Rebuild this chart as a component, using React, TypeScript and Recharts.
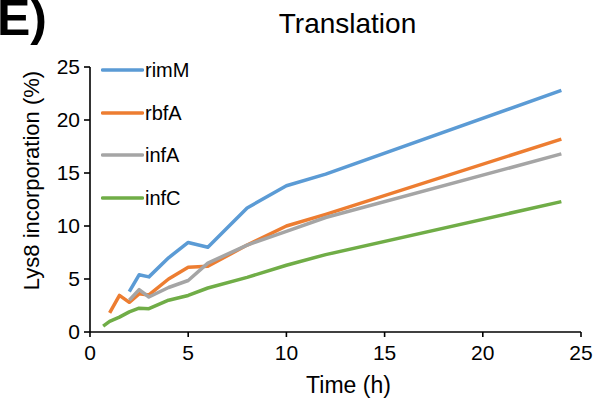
import React from "react";
import { LineChart, Line, XAxis, YAxis } from "recharts";

const timeH = [0.67, 1, 1.5, 2, 2.5, 3, 4, 5, 6, 8, 10, 12, 24];
const rimM = [null, null, null, 3.8, 5.4, 5.2, 7.0, 8.45, 8.0, 11.7, 13.8, 14.9, 22.8];
const rbfA = [null, 1.8, 3.45, 2.8, 3.6, 3.5, 5.0, 6.1, 6.2, 8.2, 10.0, 11.1, 18.2];
const infA = [null, null, null, 3.0, 4.0, 3.3, 4.2, 4.86, 6.5, 8.2, 9.5, 10.8, 16.8];
const infC = [0.55, 1.0, 1.4, 1.9, 2.25, 2.2, 3.0, 3.45, 4.15, 5.15, 6.3, 7.3, 12.3];

const xTicks = [0, 5, 10, 15, 20, 25];
const yTicks = [0, 5, 10, 15, 20, 25];

const seriesNames = ["rimM", "rbfA", "infA", "infC"];
const seriesColors = ["#5B9BD5", "#ED7D31", "#A5A5A5", "#70AD47"];

const data = timeH.map((t, i) => ({
  time: t,
  rimM: rimM[i],
  rbfA: rbfA[i],
  infA: infA[i],
  infC: infC[i],
}));

const FONT = "'Liberation Sans', Arial, Helvetica, sans-serif";

const YLabel = (props: any) => {
  const vb = props.viewBox || { x: 0, y: 0, width: 0, height: 0 };
  const cx = vb.x + 31;
  const cy = vb.y + vb.height / 2 - 19;
  return (
    <text
      x={cx}
      y={cy}
      transform={`rotate(-90, ${cx}, ${cy})`}
      textAnchor="middle"
      dominantBaseline="central"
      fontSize={22}
      fontFamily={FONT}
      fill="#000"
    >
      Lys8 incorporation (%)
    </text>
  );
};

const XLabel = (props: any) => {
  const vb = props.viewBox || { x: 0, y: 0, width: 0, height: 0 };
  const cx = vb.x + vb.width / 2 + 13;
  return (
    <text x={cx} y={393} textAnchor="middle" fontSize={23} fontFamily={FONT} fill="#000">
      Time (h)
    </text>
  );
};

export default function App() {
  return (
    <div style={{ position: "absolute", left: 0, top: 0, width: 601, height: 398, background: "#fff", overflow: "hidden" }}>
      <LineChart width={601} height={398} data={data} margin={{ top: 67, right: 20, bottom: 6, left: 0 }}>
        <XAxis
          dataKey="time"
          type="number"
          domain={[0, 25]}
          ticks={xTicks}
          height={60}
          axisLine={{ stroke: "#000", strokeWidth: 1.6 }}
          tickLine={{ stroke: "#000", strokeWidth: 1.6 }}
          tickSize={5}
          tickMargin={8}
          tick={{ fill: "#000", fontSize: 21, fontFamily: FONT }}
          label={<XLabel />}
        />
        <YAxis
          type="number"
          domain={[0, 25]}
          ticks={yTicks}
          width={90}
          axisLine={{ stroke: "#000", strokeWidth: 1.6 }}
          tickLine={{ stroke: "#000", strokeWidth: 1.6 }}
          tickSize={6}
          tickMargin={4}
          tick={{ fill: "#000", fontSize: 21, fontFamily: FONT }}
          label={<YLabel />}
        />
        {seriesNames.map((name, i) => (
          <Line
            key={name}
            type="linear"
            dataKey={name}
            name={name}
            stroke={seriesColors[i]}
            strokeWidth={3.5}
            dot={false}
            activeDot={false}
            isAnimationActive={false}
            strokeLinejoin="round"
          />
        ))}
      </LineChart>
      <div style={{ position: "absolute", left: 101, top: 49, fontFamily: FONT }}>
        {seriesNames.map((name, i) => (
          <div key={name} style={{ display: "flex", alignItems: "center", height: 42.5 }}>
            <svg width={43} height={6} style={{ display: "block" }}>
              <line x1={1.5} y1={3} x2={41.5} y2={3} stroke={seriesColors[i]} strokeWidth={3.5} strokeLinecap="round" />
            </svg>
            <span style={{ fontSize: 20, color: "#000", marginLeft: 1, lineHeight: "20px" }}>{name}</span>
          </div>
        ))}
      </div>
      <div
        style={{
          position: "absolute",
          left: 0,
          width: 695,
          top: 35 - 28 * 0.905,
          textAlign: "center",
          fontFamily: FONT,
          fontSize: 28,
          lineHeight: "28px",
          color: "#000",
          whiteSpace: "nowrap",
        }}
      >
        Translation
      </div>
      <div
        style={{
          position: "absolute",
          left: -3,
          top: 38 - 50 * 0.905,
          fontFamily: FONT,
          fontWeight: "bold",
          fontSize: 50,
          lineHeight: "50px",
          color: "#000",
          whiteSpace: "nowrap",
        }}
      >
        E)
      </div>
    </div>
  );
}
